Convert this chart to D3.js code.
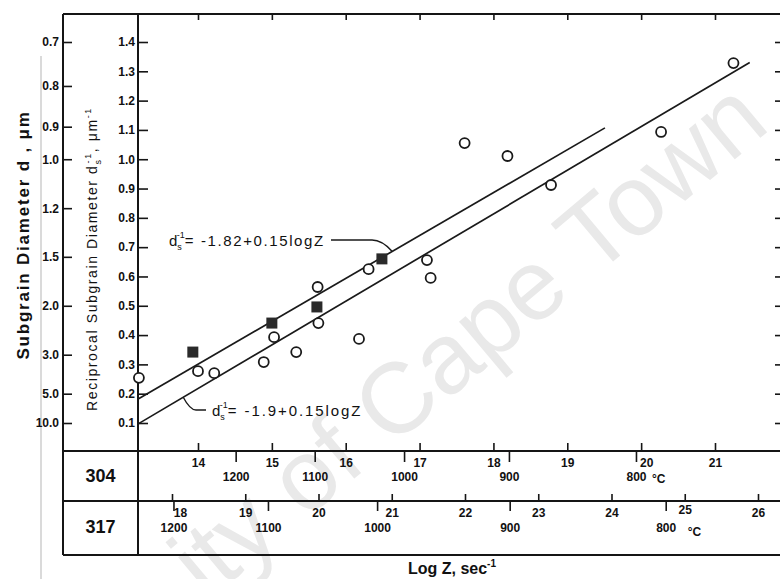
<!DOCTYPE html>
<html><head><meta charset="utf-8">
<script src="https://cdn.jsdelivr.net/npm/d3@7"></script>
<style>
body{margin:0;background:#fff}
svg{display:block}
text{font-family:"Liberation Sans",Arial,Helvetica,sans-serif;fill:#111}
</style>
</head><body>
<svg id="c" width="780" height="579"></svg>
<script>
// ---------- data ----------
const circleZ = [13.2, 14.0, 14.22, 14.89, 15.03, 15.33, 15.62, 15.63, 16.18, 16.31, 17.1, 17.15, 17.61, 18.19, 18.78, 20.27, 21.25];
const circleV = [0.254, 0.277, 0.27, 0.308, 0.393, 0.342, 0.564, 0.441, 0.387, 0.625, 0.656, 0.595, 1.055, 1.011, 0.912, 1.093, 1.328];
const squareZ = [13.93, 15.0, 15.61, 16.49];
const squareV = [0.342, 0.441, 0.496, 0.66];
const upperLineZ = [13.19, 19.51], upperLineV = [0.182, 1.107];
const lowerLineZ = [13.19, 21.47], lowerLineV = [0.097, 1.33];
const recipTicks = [0.1,0.2,0.3,0.4,0.5,0.6,0.7,0.8,0.9,1.0,1.1,1.2,1.3,1.4];
const dLabels = ["0.7","0.8","0.9","1.0","1.2","1.5","2.0","3.0","5.0","10.0"];
const dTickPos = [1.4, 1.25, 1.111, 1.0, 0.833, 0.667, 0.5, 0.333, 0.2, 0.1];
const logZ304 = [14,15,16,17,18,19,20,21];
const temp304Labels = ["1200","1100","1000","900","800"];
const temp304Z = [14.51, 15.58, 16.79, 18.21, 19.93];
const logZ317 = [18,19,20,21,22,23,24,25,26];
const temp317Labels = ["1200","1100","1000","900","800"];
const temp317Z = [18.02, 19.31, 20.80, 22.61, 24.74];
const alloys = ["304","317"];

// ---------- layout ----------
const svg = d3.select("#c");
const L = 63, A = 138, T = 14, R = 780, B1 = 451, B2 = 501, B3 = 555;
const y = d3.scaleLinear().domain([0.1, 1.4]).range([423, 42]);
const x304 = d3.scaleLinear().domain([14, 21]).range([198, 715]);
const x317 = d3.scaleLinear().domain([18, 26]).range([172, 758]);

// watermark
svg.append("text").attr("transform","translate(772,128) rotate(-40)")
  .attr("text-anchor","end").style("font-size","100px").style("fill","#e9e9e9")
  .text("ity of Cape Town");

// faint scan line
svg.append("line").attr("x1",41).attr("x2",41).attr("y1",56).attr("y2",579)
  .attr("stroke","#b5b5b5").attr("stroke-width",1);

// frame
const frame = svg.append("g").attr("stroke","#151515").attr("stroke-width",2).attr("fill","none");
frame.append("line").attr("x1",L).attr("x2",R).attr("y1",T).attr("y2",T);
frame.append("line").attr("x1",L).attr("x2",L).attr("y1",T).attr("y2",B3);
frame.append("line").attr("x1",A).attr("x2",A).attr("y1",T).attr("y2",B3);
[B1,B2,B3].forEach(v=>frame.append("line").attr("x1",L).attr("x2",R).attr("y1",v).attr("y2",v));

function styleAxis(g, fs){
  g.select(".domain").remove();
  g.selectAll(".tick line").attr("stroke","#151515").attr("stroke-width",1.6);
  g.selectAll(".tick text").style("font-size",fs||"12px").style("font-weight","bold").attr("fill","#111");
}

// inner reciprocal axis
svg.append("g").attr("transform",`translate(${A},0)`)
  .call(d3.axisLeft(y).tickValues(recipTicks).tickSize(-10).tickPadding(3).tickFormat(d3.format(".1f")))
  .call(g=>styleAxis(g));
// d axis
svg.append("g").attr("transform",`translate(${L},0)`)
  .call(d3.axisLeft(y).tickValues(dTickPos).tickSize(-9).tickPadding(4).tickFormat((d,i)=>dLabels[i]))
  .call(g=>styleAxis(g));
// top ticks
svg.append("g").attr("transform",`translate(0,${T})`)
  .call(d3.axisTop(x304).tickValues(logZ304).tickSize(-6).tickFormat(""))
  .call(g=>styleAxis(g));
// right ticks
svg.append("g").attr("transform",`translate(${R},0)`)
  .call(d3.axisLeft(y).tickValues(recipTicks).tickSize(5).tickFormat(""))
  .call(g=>styleAxis(g));

// 304 row
svg.append("g").attr("transform",`translate(0,${B1})`)
  .call(d3.axisBottom(x304).tickValues(logZ304).tickSize(-8).tickPadding(7).tickFormat(d3.format("d")))
  .call(g=>{styleAxis(g); g.selectAll(".tick text").filter(d=>d===20).attr("dx",5);});
svg.append("g").attr("transform",`translate(0,${B1})`)
  .call(d3.axisBottom(x304).tickValues(temp304Z).tickSize(11).tickPadding(10).tickFormat((d,i)=>temp304Labels[i]))
  .call(g=>styleAxis(g));
svg.append("text").attr("x",x304(temp304Z[4])+16).attr("y",B1+32).style("font-size","12px").style("font-weight","bold").text("°C");
// 317 row
svg.append("g").attr("transform",`translate(0,${B2})`)
  .call(d3.axisBottom(x317).tickValues(logZ317).tickSize(-7).tickPadding(7).tickFormat(d3.format("d")))
  .call(g=>{styleAxis(g); g.selectAll(".tick text").filter(d=>d===18).attr("dx",8); g.selectAll(".tick text").filter(d=>d===25).attr("y",4);});
svg.append("g").attr("transform",`translate(0,${B2})`)
  .call(d3.axisBottom(x317).tickValues(temp317Z).tickSize(10).tickPadding(12).tickFormat((d,i)=>temp317Labels[i]))
  .call(g=>styleAxis(g));
svg.append("text").attr("x",x317(temp317Z[4])+22).attr("y",B2+35).style("font-size","12px").style("font-weight","bold").text("°C");

// alloy labels
svg.selectAll(".alloy").data(alloys).join("text").attr("class","alloy")
  .attr("x",(L+A)/2).attr("y",(d,i)=>[482,533][i]).attr("text-anchor","middle")
  .style("font-size","18px").style("font-weight","bold").text(d=>d);

// axis titles
svg.append("text").attr("transform","translate(29,235) rotate(-90)").attr("text-anchor","middle")
  .style("font-size","17px").style("font-weight","bold").style("letter-spacing","1.8px")
  .text("Subgrain Diameter d , \u03BCm");
const t2 = svg.append("text").attr("transform","translate(97,259) rotate(-90)").attr("text-anchor","middle")
  .style("font-size","14px").style("letter-spacing","1.6px");
t2.append("tspan").text("Reciprocal Subgrain Diameter d");
t2.append("tspan").attr("dy",4).style("font-size","9px").text("s");
t2.append("tspan").attr("dy",-10).attr("dx",-5).style("font-size","9px").text("-1");
t2.append("tspan").attr("dy",6).text(", \u03BCm");
t2.append("tspan").attr("dy",-6).style("font-size","9px").text("-1");

const xt = svg.append("text").attr("x",452).attr("y",574).attr("text-anchor","middle")
  .style("font-size","16px").style("font-weight","bold");
xt.append("tspan").text("Log Z, sec");
xt.append("tspan").attr("dy",-7).style("font-size","10px").text("-1");

// fit lines
const lineGen = d3.line().x(d=>x304(d[0])).y(d=>y(d[1]));
svg.append("path").attr("d",lineGen(d3.zip(upperLineZ,upperLineV))).attr("stroke","#1a1a1a").attr("stroke-width",1.7).attr("fill","none");
svg.append("path").attr("d",lineGen(d3.zip(lowerLineZ,lowerLineV))).attr("stroke","#1a1a1a").attr("stroke-width",1.7).attr("fill","none");

// points
svg.selectAll(".sq").data(d3.zip(squareZ,squareV)).join("rect").attr("class","sq")
  .attr("x",d=>x304(d[0])-5.5).attr("y",d=>y(d[1])-5.5).attr("width",11).attr("height",11)
  .attr("fill","#2a2a2a");
svg.selectAll(".ci").data(d3.zip(circleZ,circleV)).join("circle").attr("class","ci")
  .attr("cx",d=>x304(d[0])).attr("cy",d=>y(d[1])).attr("r",5)
  .attr("fill","#fff").attr("stroke","#1a1a1a").attr("stroke-width",1.8);

// equation annotations
function eq(x0, yb, rest, ls){
  const t = svg.append("text").attr("x",x0).attr("y",yb).style("font-size","15px");
  t.append("tspan").text("d");
  t.append("tspan").attr("dy",4).style("font-size","9px").text("s");
  t.append("tspan").attr("dx",-5).attr("dy",-12).style("font-size","9px").text("-1");
  t.append("tspan").attr("dy",8).style("letter-spacing",ls).text(rest);
}
eq(169, 246, "= -1.82+0.15logZ", "1.6px");
eq(212, 416, "= -1.9+0.15logZ", "1.9px");
// leaders
const uz = 16.63, uv = upperLineV[0] + (uz-upperLineZ[0])*(upperLineV[1]-upperLineV[0])/(upperLineZ[1]-upperLineZ[0]);
svg.append("path").attr("d",`M331,240 L372,240 Q382,240 ${x304(uz)},${y(uv)}`).attr("stroke","#1a1a1a").attr("stroke-width",1.4).attr("fill","none");
const lz = 13.8, lv = lowerLineV[0] + (lz-lowerLineZ[0])*(lowerLineV[1]-lowerLineV[0])/(lowerLineZ[1]-lowerLineZ[0]);
svg.append("path").attr("d",`M${x304(lz)},${y(lv)} Q190,410 196,410 L206,410`).attr("stroke","#1a1a1a").attr("stroke-width",1.4).attr("fill","none");
</script>
</body></html>
